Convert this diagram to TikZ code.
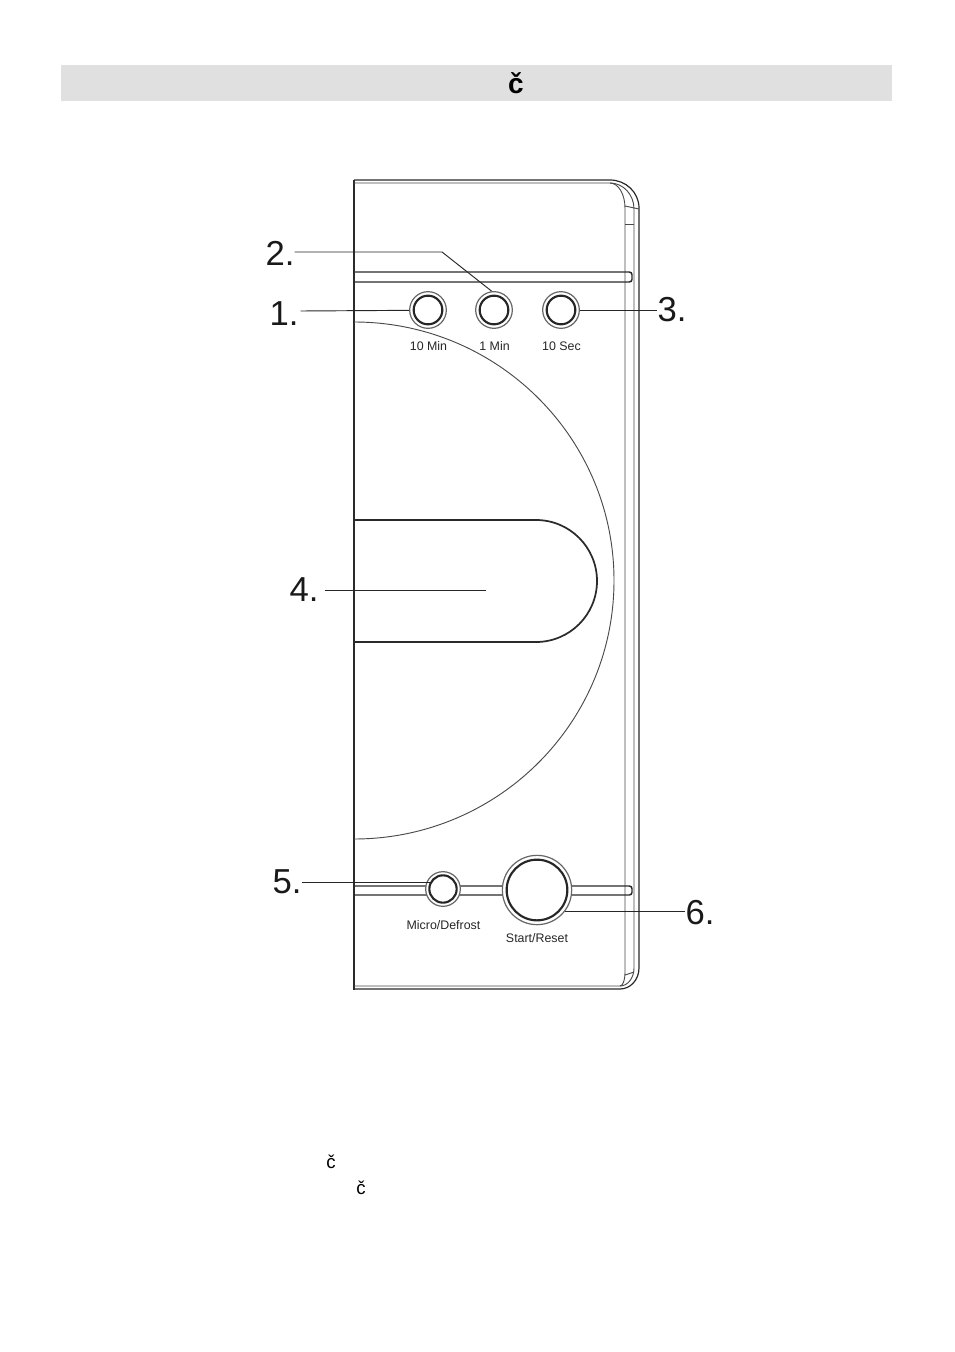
\documentclass[tikz,border=0pt]{standalone}
\usepackage{fontspec}
\setmainfont{Liberation Sans}
\definecolor{barcolor}{HTML}{E0E0E0}
\definecolor{linecolor}{HTML}{2A2A2A}
\tikzset{
  panelline/.style = {draw=linecolor, line width=0.9pt},
  thinline/.style = {draw=linecolor!85, line width=0.7pt},
  leader/.style = {draw=black!85, line width=0.7pt},
  numlabel/.style = {font=\fontsize{26}{26}\selectfont, text=black!90, inner sep=0pt},
  btnlabel/.style = {font=\fontsize{9.3}{9.3}\selectfont, text=black!85, inner sep=0pt},
  btnring/.style = {circle, draw=black!60, line width=0.9pt, fill=white, inner sep=0pt},
  btncore/.style = {circle, draw=black!85, line width=1.6pt, fill=white, inner sep=0pt}
}
\begin{document}
\begin{tikzpicture}[x=0.75pt, y=-0.75pt]
  \useasboundingbox (0,0) rectangle (954,1352);
  \fill[barcolor] (61,65) rectangle (892,101);
  \node[inner sep=0pt, font=\bfseries\fontsize{21}{21}\selectfont] (titlechar) at (516,83) {č};
  % panel outline
  \draw[draw=linecolor, line width=1.7pt] (354,180) -- (354,990);
  \draw[panelline] (354,180) -- (610,180) arc (-90:0:29 and 28) -- (639,968) arc (0:90:19 and 21) -- (354,989);
  \draw[thinline] (354,183) -- (610,183) arc (-90:0:24 and 26) -- (634,968) arc (0:90:14 and 18) -- (354,986);
  \draw[thinline] (610,183) arc (-90:0:15 and 25) -- (625,973) arc (0:90:5 and 13);
  \draw[thinline] (625,206) -- (639,209);
  \draw[thinline] (625,224) -- (634,224);
  \draw[thinline] (625,975) -- (634,972);
  % strips
  \draw[draw=linecolor, line width=1.1pt, rounded corners=2pt] (354,272) -- (632,272) -- (632,282) -- (354,282);
  \draw[draw=linecolor, line width=1.1pt, rounded corners=2pt] (354,886) -- (632,886) -- (632,895) -- (354,895);
  % dial and handle
  \draw[thinline] (354,322) arc (-90:90:260 and 258.5);
  \draw[draw=linecolor, line width=1.3pt] (354,520) -- (536,520) arc (-90:90:61) -- (354,642);
  % buttons
  \foreach \name/\xpos/\txt in {btnten/428/10 Min, btnone/494/1 Min, btnsec/561/10 Sec} {
    \node[btnring, minimum size=27.5pt] (\name) at (\xpos,310) {};
    \node[btncore, minimum size=21.5pt] at (\xpos,310) {};
    \node[btnlabel] at (\xpos+0.5,346) {\txt};
  }
  \node[btnring, minimum size=26pt] (btnmicro) at (443,889) {};
  \node[btncore, minimum size=20.5pt] at (443,889) {};
  \node[btnlabel] at (443.5,925) {Micro/Defrost};
  \node[btnring, minimum size=52pt] (btnstart) at (537,890) {};
  \node[btncore, minimum size=45.5pt] at (537,890) {};
  \node[btnlabel] at (537,938) {Start/Reset};
  % numbers
  \node[numlabel] (numone) at (284,314) {1.};
  \node[numlabel] (numtwo) at (280,253) {2.};
  \node[numlabel] (numthree) at (672,310) {3.};
  \node[numlabel] (numfour) at (304,590) {4.};
  \node[numlabel] (numfive) at (287,882) {5.};
  \node[numlabel] (numsix) at (700,913) {6.};
  \coordinate (bendtwo) at (442,252);
  \coordinate (handlemid) at (486,590);
  \coordinate (microend) at (430,882);
  % leaders
  \draw[leader] (numone.east |- btnten.west) ++(2,1) -- (btnten.181);
  \draw[leader] (numtwo.east |- bendtwo) -- (bendtwo) -- (btnone.97);
  \draw[leader] (btnsec.east) -- (numthree.west |- btnsec.east);
  \draw[leader] (numfour.east |- handlemid) ++(6,0) -- (handlemid);
  \draw[leader] (numfive.east |- microend) -- (microend);
  \draw[leader] (btnstart.-37) -- (numsix.west |- btnstart.-37);
  % stray letters
  \node[inner sep=0pt, font=\fontsize{14}{14}\selectfont] (charone) at (331,1162) {č};
  \node[inner sep=0pt, font=\fontsize{14}{14}\selectfont] (chartwo) at (361,1188) {č};
\end{tikzpicture}
\end{document}
